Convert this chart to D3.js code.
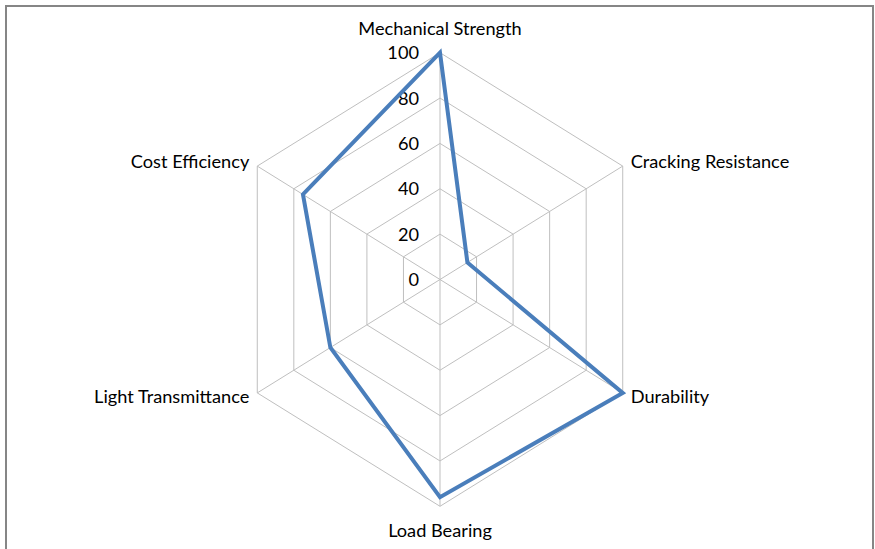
<!DOCTYPE html>
<html>
<head>
<meta charset="utf-8">
<script src="https://cdn.jsdelivr.net/npm/d3@7"></script>
<style>
  html, body { margin: 0; padding: 0; background: #fff; }
  svg { display: block; }
  text { font-family: Lato, "Open Sans", sans-serif; fill: #000; }
</style>
</head>
<body>
<svg id="chart" width="875" height="549"></svg>
<script>
const categories = ["Mechanical Strength", "Cracking Resistance", "Durability", "Load Bearing", "Light Transmittance", "Cost Efficiency"];
const values = [100, 15, 100, 96, 60, 75];
const tickValues = [0, 20, 40, 60, 80, 100];

const W = 875, H = 549;
const cx = 440, cy = 279.5;
const svg = d3.select("#chart");

// chart border
svg.append("rect")
  .attr("x", 6).attr("y", 6)
  .attr("width", 867).attr("height", 560)
  .attr("fill", "none").attr("stroke", "#868686").attr("stroke-width", 2);

const rX = d3.scaleLinear().domain([0, 100]).range([0, 211]);
const rY = d3.scaleLinear().domain([0, 100]).range([0, 226.8]);
const angle = d3.scaleLinear().domain([0, categories.length]).range([0, 2 * Math.PI]);

function pt(i, v) {
  const a = angle(i);
  return [cx + rX(v) * Math.sin(a), cy - rY(v) * Math.cos(a)];
}

const g = svg.append("g");

// grid hexagons
tickValues.filter(t => t > 0).forEach(t => {
  const pts = categories.map((c, i) => pt(i, t));
  g.append("path")
    .attr("d", d3.line()(pts) + "Z")
    .attr("fill", "none").attr("stroke", "#bfbfbf").attr("stroke-width", 1);
});
// spokes
categories.forEach((c, i) => {
  const p = pt(i, 100);
  g.append("line")
    .attr("x1", cx).attr("y1", cy).attr("x2", p[0]).attr("y2", p[1])
    .attr("stroke", "#bfbfbf").attr("stroke-width", 1);
});

// font fit: make "Cracking Resistance" about 158.7 px wide
const probe = svg.append("text").attr("font-size", 20).text("Cracking Resistance");
const w20 = probe.node().getComputedTextLength();
probe.remove();
const fs = 20 * 158.7 / w20;

// tick labels
tickValues.forEach(t => {
  g.append("text")
    .attr("x", cx - 21)
    .attr("y", cy - rY(t))
    .attr("dy", "0.36em")
    .attr("text-anchor", "end")
    .attr("font-size", fs)
    .text(t);
});

// data line
const dataPts = values.map((v, i) => pt(i, v));
g.append("path")
  .attr("d", d3.line()(dataPts) + "Z")
  .attr("fill", "none")
  .attr("stroke", "#4a7ebb")
  .attr("stroke-width", 4)
  .attr("stroke-linejoin", "miter");

// category labels
categories.forEach((c, i) => {
  const a = angle(i);
  const p = pt(i, 100);
  const s = Math.sin(a), co = Math.cos(a);
  let x = p[0], y = p[1], anchor = "middle";
  if (Math.abs(s) < 1e-6) {
    y = co > 0 ? p[1] - 17.7 : p[1] + 31;
  } else {
    anchor = s > 0 ? "start" : "end";
    x = p[0] + (s > 0 ? 8 : -8);
    y = p[1] + (co > 0 ? 2 : 10);
  }
  g.append("text")
    .attr("x", x).attr("y", y)
    .attr("text-anchor", anchor)
    .attr("font-size", fs)
    .text(c);
});
</script>
</body>
</html>
